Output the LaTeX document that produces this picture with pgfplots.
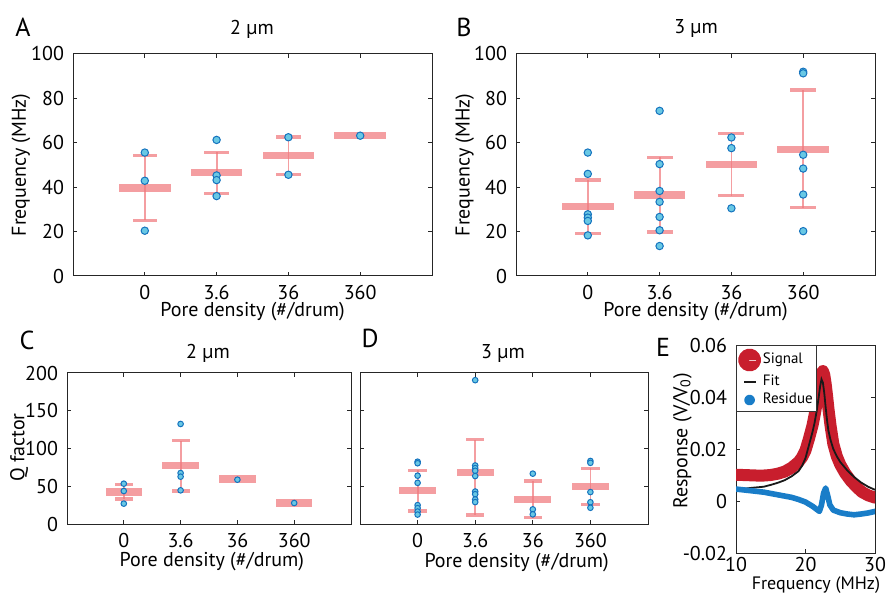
\documentclass[border=0pt]{standalone}
\usepackage{fontspec}
\setmainfont{PT Sans}
\usepackage{pgfplots}
\usepackage{pgfplotstable}
\pgfplotsset{compat=1.18}

\definecolor{barpink}{RGB}{240,120,125}
\definecolor{dotfill}{RGB}{105,200,228}
\definecolor{dotedge}{RGB}{20,115,190}
\definecolor{sigred}{RGB}{200,30,45}
\definecolor{resblue}{RGB}{25,125,200}

\pgfplotsset{
  frame/.style={
    scale only axis, anchor=south west,
    axis line style={black!85, line width=0.5pt},
    every tick/.style={black!85, line width=0.5pt},
    major tick length=2pt, tick align=inside,
    /pgf/number format/assume math mode=true,
    xticklabel style={yshift=-1pt},
    yticklabel style={xshift=-1pt},
  },
  cat/.style={
    frame,
    xmin=0, xmax=5, xtick={1,2,3,4}, xticklabels={0,3.6,36,360},
    xlabel={Pore density (\#/drum)},
  },
  pts/.style={only marks, mark=*, mark size=#1,
    mark options={fill=dotfill, draw=dotedge, line width=0.5pt}},
  meanbar/.style={draw=none, mark=none,
    error bars/x dir=both, error bars/x fixed=#1, error bars/error mark=none,
    error bars/error bar style={line width=3.6pt, draw=barpink, opacity=0.72}},
  capbar/.style={draw=none, mark=none,
    error bars/x dir=both, error bars/x fixed=#1, error bars/error mark=none,
    error bars/error bar style={line width=1.6pt, draw=barpink, opacity=0.72}},
  errline/.style={draw=none, mark=none,
    error bars/y dir=both, error bars/y explicit, error bars/error mark=none,
    error bars/error bar style={line width=0.9pt, draw=barpink, opacity=0.72}},
}

% panel A: 2 um, frequency
\pgfplotstableread{
x y
1 55.6
1 42.9
1 20.4
2 61.3
2 45.3
2 43.2
2 36.0
3 62.5
3 45.6
4 63.2
}\ptsA
\pgfplotstableread{
x m
1 39.6
2 46.5
3 54.1
4 63.2
}\meanA
\pgfplotstableread{
x m lo hi
1 39.6 25.1 54.1
2 46.5 37.2 55.7
3 54.1 45.8 62.6
}\errA

% panel B: 3 um, frequency
\pgfplotstableread{
x y
1 55.6
1 46.0
1 27.8
1 26.3
1 24.8
1 18.3
2 74.4
2 50.4
2 38.3
2 33.4
2 26.6
2 20.6
2 13.5
3 62.4
3 57.6
3 30.5
4 92.0
4 91.3
4 54.6
4 48.4
4 36.7
4 20.2
}\ptsB
\pgfplotstableread{
x m
1 31.3
2 36.5
3 50.2
4 57.1
}\meanB
\pgfplotstableread{
x m lo hi
1 31.3 19.2 43.2
2 36.5 19.8 53.4
3 50.2 36.1 64.2
4 57.1 30.7 83.8
}\errB

% panel C: 2 um, Q factor
\pgfplotstableread{
x y
1 53.4
1 43.7
1 27.0
2 132.5
2 67.5
2 62.7
2 44.6
3 58.7
4 27.8
}\ptsC
\pgfplotstableread{
x m
1 42.4
2 77.3
3 59.6
4 27.8
}\meanC
\pgfplotstableread{
x m lo hi
1 42.4 33.1 52.1
2 77.3 43.7 110.4
}\errC

% panel D: 3 um, Q factor
\pgfplotstableread{
x y
1 82.5
1 80.5
1 64.0
1 54.5
1 25.0
1 21.0
1 16.5
1 12.5
2 190.5
2 77.5
2 74.0
2 70.5
2 63.5
2 43.0
2 39.5
2 32.5
2 29.0
3 66.7
3 19.4
3 12.8
4 83.5
4 81.0
4 42.3
4 28.8
4 21.5
}\ptsD
\pgfplotstableread{
x m
1 44.2
2 68.4
3 32.7
4 49.4
}\meanD
\pgfplotstableread{
x m lo hi
1 44.2 17.2 71.1
2 68.4 11.9 111.7
3 32.7 8.4 57.0
4 49.4 26.0 73.7
}\errD

% panel E: resonance
\pgfplotstableread{
x y
10 0.0101
11 0.0100
12 0.0099
13 0.0098
14 0.0098
15 0.0100
16 0.0105
17 0.0113
18 0.0128
19 0.0150
19.5 0.0168
20 0.0195
20.5 0.0240
21 0.0290
21.3 0.0330
21.6 0.0375
21.9 0.0425
22.1 0.0460
22.3 0.0490
22.5 0.0500
22.7 0.0485
22.9 0.0450
23.1 0.0405
23.3 0.0355
23.6 0.0290
24.0 0.0220
24.5 0.0172
25.0 0.0140
25.7 0.0107
26.5 0.0078
27.3 0.0055
28.1 0.0035
29 0.0022
30 0.0013
}\signal
\pgfplotstableread{
x y
10 0.0043
12 0.0050
14 0.0055
15 0.0062
16 0.0070
17 0.0080
18 0.0095
19 0.0115
19.5 0.0135
20 0.0165
20.5 0.0215
21 0.0265
21.3 0.0300
21.6 0.0345
21.9 0.0400
22.1 0.0440
22.3 0.0468
22.5 0.0455
22.7 0.0415
22.9 0.0360
23.1 0.0310
23.3 0.0270
23.6 0.0235
24 0.0200
24.5 0.0172
25 0.0150
26 0.0118
27 0.0092
28 0.0071
29 0.0055
30 0.0043
}\fit
\pgfplotstableread{
x y
10 0.0046
12 0.0040
14 0.0034
16 0.0024
18 0.0014
19 0.0006
20 -0.0004
21 -0.0020
21.5 -0.0030
22 -0.0040
22.3 -0.0015
22.6 0.0030
22.9 0.0050
23.2 0.0020
23.5 -0.0015
24 -0.0035
25 -0.0045
26 -0.0050
27 -0.0053
28 -0.0050
29 -0.0046
30 -0.0040
}\residue

\begin{document}
\fontsize{10}{12}\selectfont
\begin{tikzpicture}
\path[use as bounding box] (0,0) rectangle (444pt,297.5pt);

% ---- A ----
\begin{axis}[cat, at={(36.5pt,159.5pt)}, width=179.5pt, height=111pt,
  ymin=0, ymax=100, ytick={0,20,40,60,80,100},
  ylabel={Frequency (MHz)},
  xlabel style={at={(axis description cs:0.5,-0.161)}, anchor=center},
  ylabel style={at={(axis description cs:-0.145,0.5)}, anchor=center}]
\addplot[pts=1.85pt] table {\ptsA};
\addplot[meanbar=0.36] table[x=x,y=m] {\meanA};
\addplot[errline] table[x=x, y=m, y error plus expr=\thisrow{hi}-\thisrow{m}, y error minus expr=\thisrow{m}-\thisrow{lo}] {\errA};
\addplot[capbar=0.17] table[x=x,y=hi] {\errA};
\addplot[capbar=0.17] table[x=x,y=lo] {\errA};
\end{axis}

% ---- B ----
\begin{axis}[cat, at={(258pt,159.5pt)}, width=179.5pt, height=111pt,
  ymin=0, ymax=100, ytick={0,20,40,60,80,100},
  ylabel={Frequency (MHz)},
  xlabel style={at={(axis description cs:0.5,-0.161)}, anchor=center},
  ylabel style={at={(axis description cs:-0.143,0.5)}, anchor=center}]
\addplot[pts=1.85pt] table {\ptsB};
\addplot[meanbar=0.36] table[x=x,y=m] {\meanB};
\addplot[errline] table[x=x, y=m, y error plus expr=\thisrow{hi}-\thisrow{m}, y error minus expr=\thisrow{m}-\thisrow{lo}] {\errB};
\addplot[capbar=0.18] table[x=x,y=hi] {\errB};
\addplot[capbar=0.18] table[x=x,y=lo] {\errB};
\end{axis}

% ---- C ----
\begin{axis}[cat, at={(33.5pt,35.5pt)}, width=142pt, height=75.5pt,
  ymin=0, ymax=200, ytick={0,50,100,150,200},
  ylabel={Q factor},
  xlabel style={at={(axis description cs:0.51,-0.25)}, anchor=center},
  ylabel style={at={(axis description cs:-0.169,0.507)}, anchor=center}]
\addplot[pts=1.4pt] table {\ptsC};
\addplot[meanbar=0.32] table[x=x,y=m] {\meanC};
\addplot[errline] table[x=x, y=m, y error plus expr=\thisrow{hi}-\thisrow{m}, y error minus expr=\thisrow{m}-\thisrow{lo}] {\errC};
\addplot[capbar=0.16] table[x=x,y=hi] {\errC};
\addplot[capbar=0.16] table[x=x,y=lo] {\errC};
\end{axis}

% ---- D ----
\begin{axis}[cat, at={(180pt,35.5pt)}, width=144pt, height=75.5pt,
  ymin=0, ymax=200, ytick={0,50,100,150,200}, yticklabels={},
  xlabel style={at={(axis description cs:0.544,-0.254)}, anchor=center}]
\addplot[pts=1.4pt] table {\ptsD};
\addplot[meanbar=0.32] table[x=x,y=m] {\meanD};
\addplot[errline] table[x=x, y=m, y error plus expr=\thisrow{hi}-\thisrow{m}, y error minus expr=\thisrow{m}-\thisrow{lo}] {\errD};
\addplot[capbar=0.16] table[x=x,y=hi] {\errD};
\addplot[capbar=0.16] table[x=x,y=lo] {\errD};
\end{axis}

% ---- E ----
\begin{axis}[frame, at={(368pt,21pt)}, width=69.5pt, height=104pt,
  xmin=10, xmax=30, ymin=-0.02, ymax=0.06,
  scaled x ticks=false, scaled y ticks=false,
  xtick={10,20,30}, xticklabels={10,20,30},
  xticklabel style={inner sep=0.5pt, yshift=-0.6pt},
  ytick={-0.02,0,0.02,0.04,0.06}, yticklabels={-0.02,0,0.02,0.04,0.06},
  xlabel={Frequency (MHz)}, ylabel={Response (V/V\textsubscript{0})},
  xlabel style={at={(axis description cs:0.575,-0.152)}, anchor=center, inner sep=0.2pt,
    font=\fontsize{9}{10}\selectfont},
  ylabel style={at={(axis description cs:-0.386,0.54)}, anchor=center},
  legend style={at={(0,1)}, anchor=north west, draw=black!80, line width=0.4pt,
    font=\fontsize{7.5}{9}\selectfont, inner xsep=0.8pt, inner ysep=1.5pt,
    row sep=0.8pt, nodes={inner sep=0.8pt}},
  legend cell align=left]
\addplot[sigred, line width=6pt, line join=round, line cap=round,
  legend image code/.code={
    \fill[sigred] (3pt,0) circle (2.8pt);
    \draw[white!75!sigred, line width=0.4pt] (3pt,0) -- (6pt,0);}]
  table {\signal};
\addlegendentry{Signal}
\addplot[black!90, line width=0.9pt,
  legend image code/.code={\draw[black!90, line width=0.9pt] (0.3pt,0) -- (6pt,0);}]
  table {\fit};
\addlegendentry{Fit}
\addplot[resblue, line width=2.8pt, line join=round, line cap=round,
  legend image code/.code={\fill[resblue] (3pt,0) circle (1.3pt);}]
  table {\residue};
\addlegendentry{Residue}
\end{axis}

% panel letters and titles
\node[font=\fontsize{13}{14}\selectfont] at (11.5pt,284pt) {A};
\node[font=\fontsize{13}{14}\selectfont] at (232pt,284pt) {B};
\node[font=\fontsize{13}{14}\selectfont] at (13.5pt,127.5pt) {C};
\node[font=\fontsize{13}{14}\selectfont] at (185pt,128.5pt) {D};
\node[font=\fontsize{13}{14}\selectfont] at (331.5pt,124pt) {E};
\node at (126pt,283pt) {2 µm};
\node at (348pt,283pt) {3 µm};
\node at (104pt,121pt) {2 µm};
\node at (251.5pt,121pt) {3 µm};
\end{tikzpicture}
\end{document}
